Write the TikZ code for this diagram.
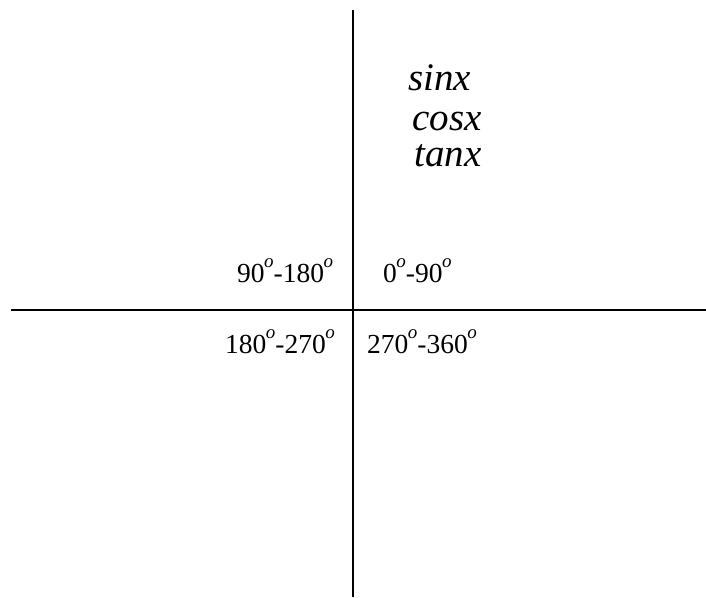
\documentclass[tikz,border=0pt]{standalone}
\usepackage{fontspec}
\setmainfont{Liberation Serif}
\newcommand{\dg}{\kern-0.5pt\raisebox{15pt}{\fontsize{19}{20}\selectfont\itshape o}}
\begin{document}
\begin{tikzpicture}[x=1pt,y=-1pt,
  axis/.style={line width=1.6pt,black},
  fn/.style={font=\fontsize{39}{41}\selectfont\itshape,anchor=base west,inner sep=0pt},
  quad/.style={font=\fontsize{27.5}{30}\selectfont,anchor=base west,inner sep=0pt}]
\useasboundingbox (0,0) rectangle (706,597);
\coordinate (top) at (353,10);
\coordinate (bot) at (353,597);
\coordinate (lft) at (11,310);
\coordinate (rgt) at (706,310);
\draw[axis] (top) -- (bot);
\draw[axis] (lft) -- (rgt);
\node[fn] (sin) at (408,90) {sinx};
\node[fn] (cos) at (412,130) {cosx};
\node[fn] (tan) at (414,166) {tanx};
\node[quad] (q2) at (237,282) {90\dg-180\dg};
\node[quad] (q1) at (383,282) {0\dg-90\dg};
\node[quad] (q3) at (225,353) {180\dg-270\dg};
\node[quad] (q4) at (367,353) {270\dg-360\dg};
\end{tikzpicture}
\end{document}
